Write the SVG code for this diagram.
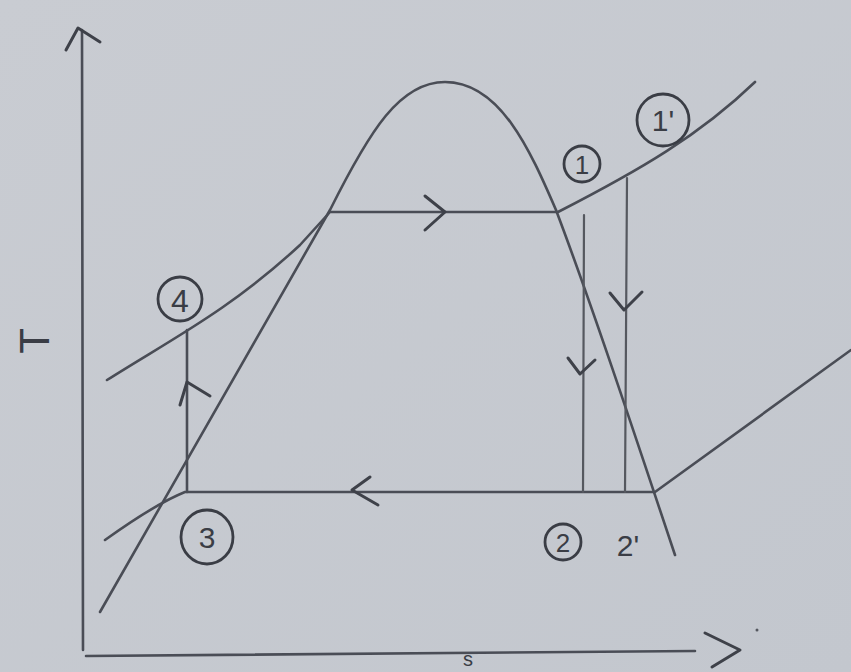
<svg xmlns="http://www.w3.org/2000/svg" width="851" height="672" viewBox="0 0 851 672">
<style>
.ln{fill:none;stroke:#4a4d56;stroke-width:2.6;stroke-linecap:round;stroke-linejoin:round}
.thin{fill:none;stroke:#55585f;stroke-width:2.2;stroke-linecap:round}
.ar{fill:none;stroke:#3e4149;stroke-width:3;stroke-linecap:round;stroke-linejoin:round}
.circ{fill:none;stroke:#3a3d45;stroke-width:2.8}
.lbl{font-family:"Liberation Sans",Arial,sans-serif;fill:#3a3d45;text-anchor:middle}
</style>
<defs>
<linearGradient id="bg" x1="0" y1="0" x2="1" y2="1">
<stop offset="0" stop-color="#c9ccd2"/>
<stop offset="1" stop-color="#c3c7ce"/>
</linearGradient>
</defs>
<rect width="851" height="672" fill="url(#bg)"/>
<g id="axes">
<path class="ln" d="M82 30 L83 650"/>
<path class="ar" d="M66 50 L78 28 L100 42"/>
<path class="ln" d="M86 656 L695 651"/>
<path class="ar" d="M705 633 L740 650 L712 667"/>
<circle cx="757" cy="630" r="1.5" fill="#55585f"/>
<text class="lbl" x="0" y="0" font-size="42" transform="translate(49,341) rotate(-90)">T</text>
<text class="lbl" x="468" y="666" font-size="20">s</text>
</g>
<g id="connectors">
<path id="dome" class="ln" d="M100 612 L330 210 C370 130 400 82 445 82 C500 82 530 150 556 210 C590 300 630 420 675 555"/>
<path id="high-isobar" class="ln" d="M107 380 C170 340 230 310 300 245 L330 212 L558 212 C640 170 700 135 755 82"/>
<path id="low-isobar" class="ln" d="M105 540 C140 515 165 500 185 492 L655 492 L851 350"/>
<path id="v34" class="ln" d="M187 492 L187 330"/>
<path id="v12" class="thin" d="M584 215 L583 492"/>
<path id="v12p" class="thin" d="M627 178 L625 492"/>
<path class="ar" d="M425 196 L445 212 L425 230"/>
<path class="ar" d="M370 477 L352 490 L378 505"/>
<path class="ar" d="M180 405 L187 382 L210 396"/>
<path class="ar" d="M568 358 L580 374 L595 360"/>
<path class="ar" d="M610 293 L624 310 L642 292"/>
</g>
<g id="n4">
<circle class="circ" cx="180" cy="299" r="22"/>
<text class="lbl" x="180" y="312" font-size="32">4</text>
</g>
<g id="n3">
<ellipse class="circ" cx="207" cy="537" rx="26" ry="27"/>
<text class="lbl" x="207" y="548" font-size="30">3</text>
</g>
<g id="n2">
<circle class="circ" cx="563" cy="542" r="18"/>
<text class="lbl" x="563" y="552" font-size="26">2</text>
</g>
<g id="n2p">
<text class="lbl" x="628" y="556" font-size="30">2'</text>
</g>
<g id="n1">
<circle class="circ" cx="582" cy="164" r="18"/>
<text class="lbl" x="582" y="174" font-size="26">1</text>
</g>
<g id="n1p">
<circle class="circ" cx="663" cy="120" r="26"/>
<text class="lbl" x="663" y="131" font-size="30">1'</text>
</g>
</svg>
